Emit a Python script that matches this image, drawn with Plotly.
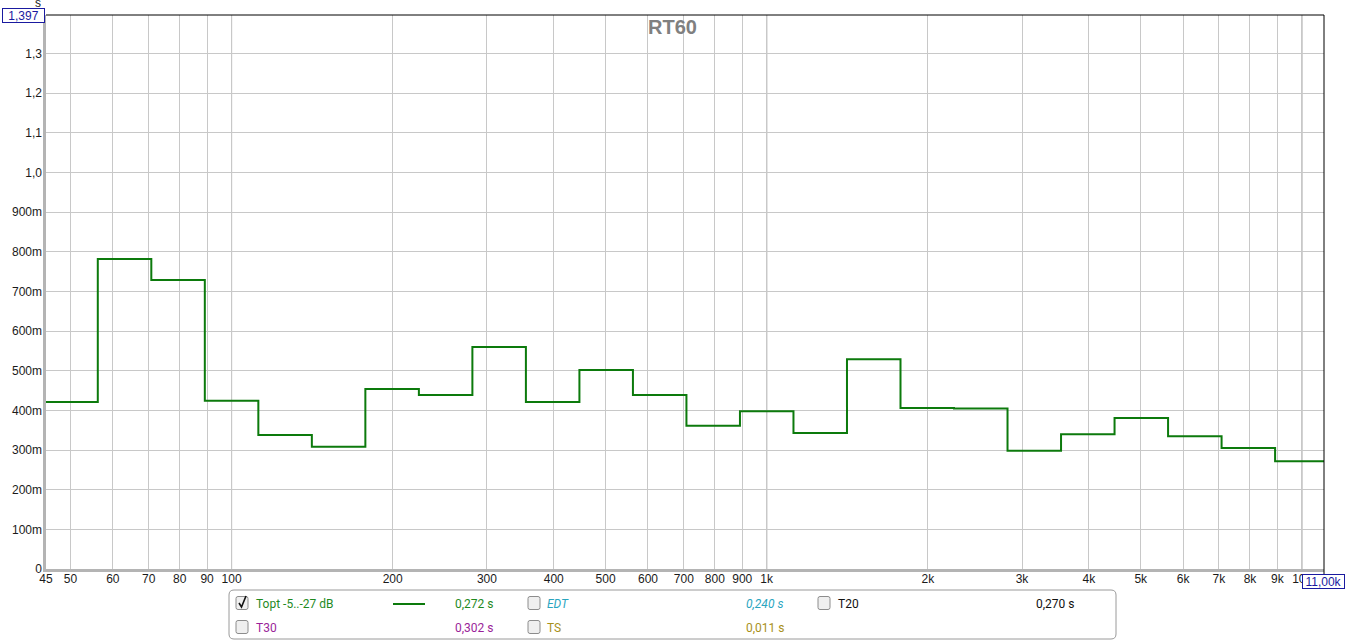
import math
import plotly.graph_objects as go

# ---- data ----
band_centers = [50, 63, 80, 100, 125, 160, 200, 250, 315, 400, 500, 630, 800, 1000,
                1250, 1600, 2000, 2500, 3150, 4000, 5000, 6300, 8000, 10000]
rt60_s = [0.421, 0.782, 0.729, 0.424, 0.338, 0.308, 0.454, 0.439, 0.560, 0.421, 0.502,
          0.439, 0.361, 0.398, 0.343, 0.529, 0.406, 0.405, 0.298, 0.340, 0.381, 0.335,
          0.305, 0.272]

x_tickvals = [45, 50, 60, 70, 80, 90, 100, 200, 300, 400, 500, 600, 700, 800, 900, 1000,
              2000, 3000, 4000, 5000, 6000, 7000, 8000, 9000, 10000]
x_ticktext = ["45", "50", "60", "70", "80", "90", "100", "200", "300", "400", "500", "600",
              "700", "800", "900", "1k", "2k", "3k", "4k", "5k", "6k", "7k", "8k", "9k", "10k"]
y_tickvals = [0, 0.1, 0.2, 0.3, 0.4, 0.5, 0.6, 0.7, 0.8, 0.9, 1.0, 1.1, 1.2, 1.3]
y_ticktext = ["0", "100m", "200m", "300m", "400m", "500m", "600m", "700m", "800m", "900m",
              "1,0", "1,1", "1,2", "1,3"]
x_min, x_max = 45, 11000
y_max = 1.397

legend_rows = [
    # label, value, colour, italic, checked, has line, column, row
    ("Topt -5..-27 dB", "0,272 s", "#1f8a1f", False, True, True, 0, 0),
    ("EDT", "0,240 s", "#2aa5bf", True, False, False, 1, 0),
    ("T20", "0,270 s", "#111111", False, False, False, 2, 0),
    ("T30", "0,302 s", "#9a1f9a", False, False, False, 0, 1),
    ("TS", "0,011 s", "#a8901a", False, False, False, 1, 1),
]

# ---- step line from 1/3-octave band edges ----
def band_edges(c):
    n = round(10 * math.log10(c))
    return 10 ** ((n - 0.5) / 10), 10 ** ((n + 0.5) / 10)

xs, ys = [], []
for c, v in zip(band_centers, rt60_s):
    lo, hi = band_edges(c)
    xs.append(lo)
    ys.append(v)
xs.append(band_edges(band_centers[-1])[1])
ys.append(rt60_s[-1])

LINE_GREEN = "#0c7a0c"
fig = go.Figure()
fig.add_trace(go.Scatter(x=xs, y=ys, mode="lines", line=dict(color=LINE_GREEN, width=2, shape="hv"),
                         hoverinfo="skip", showlegend=False))

# ---- pixel helpers (plot area 46..1324 x 15..569) ----
L, R, T, B = 46, 1324, 15, 569
def PX(x):
    return (x - L) / (R - L)
def PY(y):
    return (B - y) / (B - T)

AXFONT = dict(family="Liberation Sans, Arial, sans-serif", size=12, color="#1a1a1a")
fig.update_layout(
    width=1346, height=641,
    margin=dict(l=L, r=1346 - R, t=T, b=641 - B, autoexpand=False),
    paper_bgcolor="white", plot_bgcolor="white",
    showlegend=False,
    xaxis=dict(type="log", range=[math.log10(x_min), math.log10(x_max)],
               tickvals=x_tickvals, ticktext=x_ticktext, tickfont=AXFONT,
               showgrid=True, gridcolor="#c8c8c8", gridwidth=1, zeroline=False,
               showline=False, ticks="", ticklabelstandoff=1, automargin=False),
    yaxis=dict(range=[0, y_max], tickvals=y_tickvals, ticktext=y_ticktext, tickfont=AXFONT,
               showgrid=True, gridcolor="#c8c8c8", gridwidth=1, zeroline=False,
               showline=False, ticks="", ticklabelstandoff=3, automargin=False),
)

shapes = []
# darker decade lines
for d in [100, 1000, 10000]:
    shapes.append(dict(type="line", xref="x", yref="paper", x0=d, x1=d, y0=0, y1=1,
                       line=dict(color="#808080", width=1), layer="between"))
# frame
shapes.append(dict(type="line", xref="paper", yref="paper", x0=PX(44.5), x1=PX(44.5), y0=0, y1=1,
                   line=dict(color="#b4b4b4", width=3), layer="above"))
shapes.append(dict(type="line", xref="paper", yref="paper", x0=PX(43), x1=1, y0=PY(570.5), y1=PY(570.5),
                   line=dict(color="#b4b4b4", width=3), layer="above"))
shapes.append(dict(type="line", xref="paper", yref="paper", x0=PX(46), x1=1, y0=1, y1=1,
                   line=dict(color="#000000", width=1), layer="above"))
shapes.append(dict(type="line", xref="paper", yref="paper", x0=1, x1=1, y0=PY(574), y1=1,
                   line=dict(color="#000000", width=1), layer="above"))

# legend box (rounded)
def rrect(x0, y0, x1, y1, r):
    a, b, c, d = PX(x0), PX(x1), PY(y0), PY(y1)
    rx, ry = r / (R - L), r / (B - T)
    return (f"M {a+rx},{c} L {b-rx},{c} Q {b},{c} {b},{c-ry} L {b},{d+ry} Q {b},{d} {b-rx},{d} "
            f"L {a+rx},{d} Q {a},{d} {a},{d+ry} L {a},{c-ry} Q {a},{c} {a+rx},{c} Z")

shapes.append(dict(type="path", xref="paper", yref="paper", path=rrect(229, 590, 1116, 639, 5),
                   line=dict(color="#9a9a9a", width=1), fillcolor="white"))

annotations = []
col_box_x = [236, 528, 818]
col_label_x = [254, 545, 836]
col_val_x = [453, 744, 1034]
row_y = [603, 627]
for label, val, col, ital, checked, hasline, ci, ri in legend_rows:
    cy = row_y[ri]
    bx = col_box_x[ci]
    shapes.append(dict(type="path", xref="paper", yref="paper",
                       path=rrect(bx, cy - 6.5, bx + 12, cy + 6.5, 2),
                       line=dict(color="#8c8c8c", width=1), fillcolor="#efefef"))
    if checked:
        shapes.append(dict(type="path", xref="paper", yref="paper",
                           path=f"M {PX(bx+3)},{PY(cy)} L {PX(bx+5.5)},{PY(cy+4)} L {PX(bx+10)},{PY(cy-7)}",
                           line=dict(color="#111111", width=1.6)))
    if hasline:
        shapes.append(dict(type="line", xref="paper", yref="paper", x0=PX(393), x1=PX(425),
                           y0=PY(cy + 1), y1=PY(cy + 1), line=dict(color=LINE_GREEN, width=2)))
    fam = "Liberation Sans Narrow, Arial Narrow, Roboto, sans-serif"
    for txt, xx in [(label, col_label_x[ci]), (val, col_val_x[ci])]:
        t = f"<i>{txt}</i>" if ital else txt
        annotations.append(dict(text=t, xref="paper", yref="paper", x=PX(xx), y=PY(cy + 1),
                                xanchor="left", yanchor="middle", showarrow=False,
                                font=dict(family=fam, size=12, color=col)))

# title
annotations.append(dict(text="<b>RT60</b>", xref="paper", yref="paper", x=PX(672), y=PY(27),
                        xanchor="center", yanchor="middle", showarrow=False,
                        font=dict(family="Liberation Sans, Arial, sans-serif", size=20, color="#808080")))
# y unit and top value box
annotations.append(dict(text="s", xref="paper", yref="paper", x=PX(38), y=PY(3),
                        xanchor="center", yanchor="middle", showarrow=False,
                        font=dict(family="Liberation Sans, Arial, sans-serif", size=12, color="#1a1a1a")))
annotations.append(dict(text="1,397", xref="paper", yref="y", x=PX(45), y=y_max,
                        xanchor="right", yanchor="middle", showarrow=False, width=41, height=13,
                        font=dict(family="Liberation Sans, Arial, sans-serif", size=12, color="#1a1aa0"),
                        bgcolor="white", bordercolor="#1a1aa0", borderwidth=1, borderpad=0))
annotations.append(dict(text="11,00k", xref="paper", yref="paper", x=PX(1302), y=PY(581),
                        xanchor="left", yanchor="middle", showarrow=False, width=41, height=13,
                        font=dict(family="Liberation Sans, Arial, sans-serif", size=12, color="#1a1aa0"),
                        bgcolor="white", bordercolor="#1a1aa0", borderwidth=1, borderpad=0))

fig.update_layout(shapes=shapes, annotations=annotations)
fig.write_html("out.html", config={"displayModeBar": False},
               post_script="document.body.style.margin='0';document.body.style.padding='0';")
